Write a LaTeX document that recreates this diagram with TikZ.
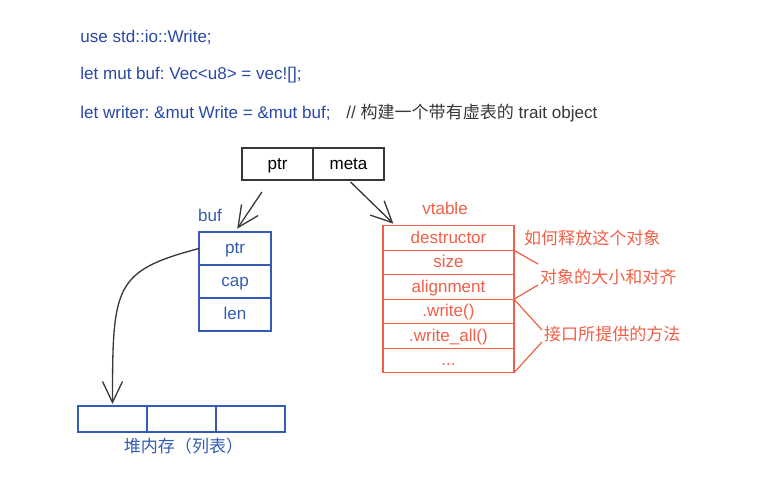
\documentclass[tikz,border=0pt]{standalone}
\usepackage{fontspec}
\setmainfont{Liberation Sans}
\newfontfamily\cjk{Noto Sans CJK SC}
\usepackage{tikz}
\usetikzlibrary{arrows.meta,positioning,calc}
\frenchspacing
\definecolor{codeblue}{RGB}{40,72,165}
\definecolor{bufblue}{RGB}{52,92,182}
\definecolor{vtorange}{RGB}{240,96,72}
\definecolor{ptrgray}{RGB}{55,55,55}
\newcommand{\lblfont}{\fontsize{9.7}{11.5}\selectfont}
\tikzset{
  codeline/.style={anchor=west, inner sep=0pt, font=\lblfont, text=codeblue},
  cell/.style={draw, rectangle, minimum width=1.42cm, minimum height=0.64cm,
               inner sep=0pt, outer sep=0pt, font=\lblfont, line width=0.75pt,
               text height=1.55ex, text depth=0.45ex},
  ptrcell/.style={cell, draw=ptrgray, text=black},
  bufcell/.style={cell, draw=bufblue, text=bufblue, minimum width=1.44cm,
                  minimum height=0.66cm},
  vtcell/.style={cell, draw=vtorange, text=vtorange, minimum width=2.62cm,
                 minimum height=0.49cm},
  heapcell/.style={cell, draw=bufblue, minimum width=1.38cm, minimum height=0.52cm},
  note/.style={font=\lblfont\cjk, text=vtorange, anchor=west, inner sep=1pt},
  arrow/.style={-{Straight Barb[length=4.2mm, width=4mm, line width=0.75pt]},
                line width=0.75pt, draw=ptrgray},
  brace/.style={line width=0.7pt, draw=vtorange},
}

\begin{document}
\begin{tikzpicture}
\useasboundingbox (0,0) rectangle (15.38,9.56);

% ---------------- source code ----------------
\node[codeline] (use) at (1.60,8.82) {use std::io::Write;};
\node[codeline] (buf) at (1.60,8.06) {let mut buf: Vec<u8> = vec![];};
\node[codeline] (wr)  at (1.60,7.30) {let writer: \&mut Write = \&mut buf;};
\node[codeline, text=ptrgray] (cmt) at (6.92,7.30)
  {// {\cjk 构建一个带有虚表的} trait object};

% ---------------- fat pointer ----------------
\node[ptrcell] (tptr) at (5.55,6.28) {ptr};
\node[ptrcell, right=0pt of tptr] (tmeta) {meta};

% ---------------- buf on the stack ----------------
\node[bufcell] (bptr) at (4.70,4.59) {ptr};
\node[bufcell, below=0pt of bptr] (bcap) {cap};
\node[bufcell, below=0pt of bcap] (blen) {len};
\node[font=\lblfont, text=bufblue] (blbl) at (4.20,5.26) {buf};

% ---------------- vtable ----------------
\node[vtcell] (dtor) at (8.97,4.80) {destructor};
\node[vtcell, below=0pt of dtor] (vsize) {size};
\node[vtcell, below=0pt of vsize] (valign) {alignment};
\node[vtcell, below=0pt of valign] (vwrite) {.write()};
\node[vtcell, below=0pt of vwrite] (vwall) {.write\_all()};
\node[vtcell, below=0pt of vwall] (vdots) {...};
\node[font=\lblfont, text=vtorange] (vlbl) at (8.90,5.40) {vtable};

% notes on the vtable rows
\node[note] (ndrop) at (10.44,4.80) {如何释放这个对象};
\node[note] (nsize) at (10.76,4.02) {对象的大小和对齐};
\node[note] (nifc)  at (10.84,2.88) {接口所提供的方法};
\draw[brace] (dtor.south east) -- ([yshift=0.26cm]nsize.west);
\draw[brace] (valign.south east) -- ([yshift=-0.16cm]nsize.west);
\draw[brace] (valign.south east) -- ([yshift=0.08cm]nifc.west);
\draw[brace] (vdots.south east) -- ([yshift=-0.16cm]nifc.west);

% ---------------- heap buffer ----------------
\node[heapcell] (h1) at (2.25,1.18) {};
\node[heapcell, right=0pt of h1] (h2) {};
\node[heapcell, right=0pt of h2] (h3) {};
\node[font=\lblfont\cjk, text=bufblue] (hlbl) at (3.67,0.64) {堆内存（列表）};

% ---------------- pointers ----------------
\draw[arrow, shorten <=0.29cm, shorten >=0.08cm]
  ([xshift=-0.15cm]tptr.south) -- (bptr.north);
\draw[arrow, shorten <=0.06cm, shorten >=0.06cm]
  (tmeta.south) -- ([xshift=0.25cm]dtor.north west);
\draw[arrow, shorten >=0.04cm]
  (bptr.west) .. controls +(-1.7,-0.45) and +(0,2.4) .. (h1.north);
\end{tikzpicture}
\end{document}
